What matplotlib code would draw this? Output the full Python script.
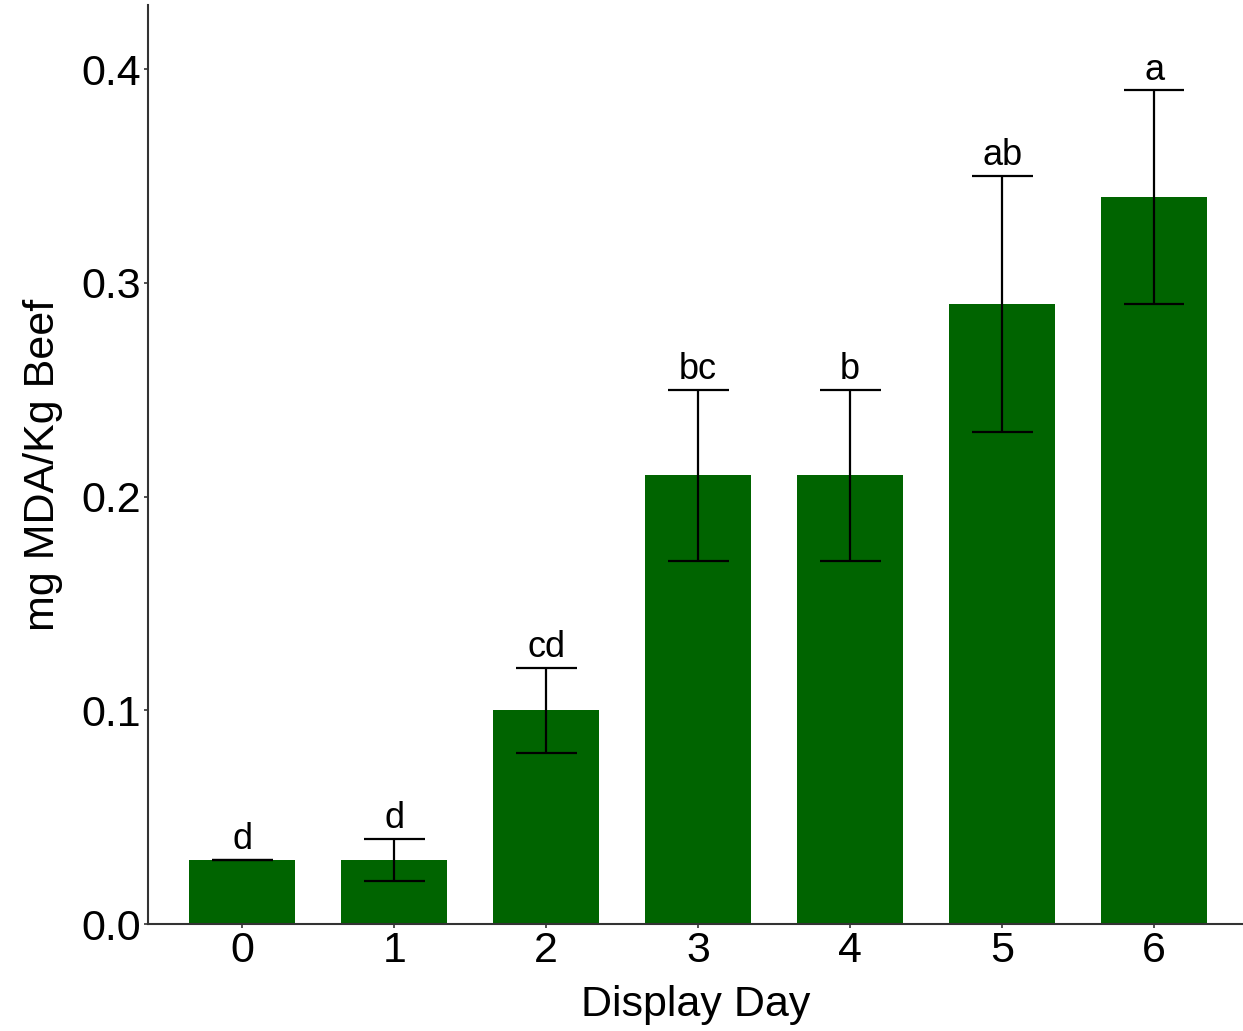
import matplotlib
matplotlib.use("Agg")
import matplotlib.pyplot as plt
from matplotlib import transforms

plt.rcParams['font.family'] = ['Liberation Sans', 'DejaVu Sans']

days = ["0", "1", "2", "3", "4", "5", "6"]
mda = [0.03, 0.03, 0.10, 0.21, 0.21, 0.29, 0.34]
err_low = [0.03, 0.02, 0.08, 0.17, 0.17, 0.23, 0.29]
err_high = [0.03, 0.04, 0.12, 0.25, 0.25, 0.35, 0.39]
letters = ["d", "d", "cd", "bc", "b", "ab", "a"]

fig = plt.figure(figsize=(12.43, 10.31), dpi=100)
ax = fig.add_axes([148 / 1243, 1 - 924 / 1031, 1 - 148 / 1243, (924 - 5) / 1031])

x = list(range(len(days)))
ax.bar(x, mda, width=0.7, color="#006400", zorder=1)

lower = [m - lo for m, lo in zip(mda, err_low)]
upper = [hi - m for m, hi in zip(mda, err_high)]
ax.errorbar(x, mda, yerr=[lower, upper], fmt="none", ecolor="black",
            elinewidth=1.6, capsize=0, zorder=2)
# caps drawn as horizontal segments 0.4 units wide
ax.hlines(err_high, [i - 0.2 for i in x], [i + 0.2 for i in x], color="black", lw=1.6, zorder=2)
ax.hlines(err_low, [i - 0.2 for i in x], [i + 0.2 for i in x], color="black", lw=1.6, zorder=2)

offset = transforms.offset_copy(ax.transData, fig=fig, x=0, y=2, units="points")
for i, (hi, lab) in enumerate(zip(err_high, letters)):
    ax.text(i, hi, lab, ha="center", va="bottom", fontsize=26, transform=offset)

ax.set_xlim(-0.62, 6.585)
ax.set_ylim(0, 0.43)
ax.set_xticks(x)
ax.set_xticklabels(days)
ax.set_yticks([0.0, 0.1, 0.2, 0.3, 0.4])
ax.set_yticklabels(["0.0", "0.1", "0.2", "0.3", "0.4"])
ax.tick_params(axis="both", labelsize=31, length=3, width=1.2, color="#333333", pad=2)

for side in ("top", "right"):
    ax.spines[side].set_visible(False)
for side in ("left", "bottom"):
    ax.spines[side].set_color("#333333")
    ax.spines[side].set_linewidth(1.5)

ax.set_xlabel("Display Day", fontsize=31, labelpad=10)
ax.set_ylabel("mg MDA/Kg Beef", fontsize=31, labelpad=13)

fig.savefig("out.png", dpi=100)
